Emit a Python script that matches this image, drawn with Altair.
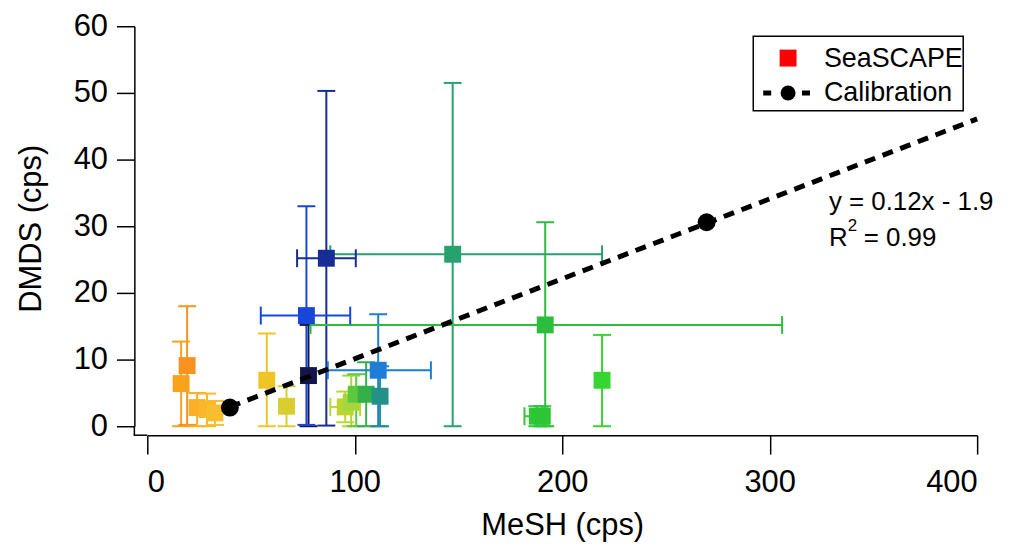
import altair as alt
import pandas as pd

# SeaSCAPE measurements (MeSH vs DMDS, cps) with error bounds
sea_x = [16.3, 19.2, 24.0, 28.8, 32.6, 57.6, 67.1, 77.7, 76.7, 86.3, 111.3,
         95.4, 98.3, 100.7, 105.5, 112.2, 147.2, 191.8, 219.2, 188.0, 190.4]
sea_y = [6.4, 9.1, 2.8, 2.5, 2.0, 6.9, 3.0, 7.6, 16.6, 25.2, 8.4,
         2.9, 3.6, 4.8, 4.8, 4.5, 25.8, 15.2, 6.9, 1.5, 1.5]
sea_ylo = [0.0, 0.2, 0.0, 0.0, 0.2, 0.0, 0.0, 0.0, 0.2, 0.1, 0.0,
           0.6, 0.0, 0.0, 0.0, 0.0, 0.0, 0.0, 0.0, 0.0, 0.0]
sea_yhi = [12.7, 18.0, 5.0, 4.9, 3.8, 13.9, 6.0, 15.2, 33.0, 50.3, 16.8,
           5.2, 7.6, 7.8, 9.6, 9.0, 51.5, 30.6, 13.7, 3.0, 3.0]
sea_xlo = [None, None, None, None, None, None, None, None, 54.7, 72.2, 87.0,
           88.2, None, None, None, None, 88.2, 78.7, None, 181.8, None]
sea_xhi = [None, None, None, None, None, None, None, None, 97.8, 100.5, 136.7,
           102.6, None, None, None, None, 219.2, 306.0, None, 193.0, None]
sea_color = ["#F9A21C", "#F7931E", "#FBAE26", "#FBB72B", "#F8BE2D", "#EEC524",
             "#D8CE30", "#14154D", "#1846DB", "#172C94", "#1E7ED7",
             "#BCD62F", "#A5D63A", "#5CC840", "#34B049", "#22918A",
             "#27A26F", "#2EBC3F", "#35D631", "#2DC935", "#2CC635"]

# Calibration points and linear fit (y = 0.12x - 1.9)
cal_x = [39.8, 269.6]
cal_y = [2.8, 30.6]
fit_x = [39.8, 400.0]
fit_y = [2.9, 46.1]

x_ticks = [0, 100, 200, 300, 400]
y_ticks = [0, 10, 20, 30, 40, 50, 60]

FONT = "Liberation Sans"

df = pd.DataFrame({"x": sea_x, "y": sea_y, "ylo": sea_ylo, "yhi": sea_yhi,
                   "xlo": sea_xlo, "xhi": sea_xhi, "color": sea_color})
cal = pd.DataFrame({"x": cal_x, "y": cal_y})
fit = pd.DataFrame({"x": fit_x, "y": fit_y})
one = pd.DataFrame({"a": [0]})

xs = alt.Scale(domain=[0, 400], nice=False, zero=False)
ys = alt.Scale(domain=[0, 60], nice=False, zero=False)

xaxis = alt.Axis(values=x_ticks, tickSize=19, offset=9, labelFontSize=31, titleFontSize=31,
                 labelPadding=14, titlePadding=13, domainColor="black", tickColor="black",
                 domainWidth=1.5, tickWidth=1.5, grid=False, labelColor="black",
                 titleColor="black", titleFontWeight="normal", labelFont=FONT, titleFont=FONT)
yaxis = alt.Axis(values=y_ticks, tickSize=18, offset=13, labelFontSize=31, titleFontSize=31,
                 labelPadding=9, domainColor="black", tickColor="black",
                 domainWidth=1.5, tickWidth=1.5, grid=False, labelColor="black",
                 titleColor="black", titleFontWeight="normal", labelFont=FONT, titleFont=FONT,
                 titleX=-103, titleY=203, titleAlign="center", titleBaseline="middle",
                 titleAngle=270)

colr = alt.Color("color:N", scale=None)
base = alt.Chart(df)

ybars = base.mark_rule(strokeWidth=2).encode(
    x=alt.X("x:Q", scale=xs, axis=xaxis, title="MeSH (cps)"),
    y=alt.Y("ylo:Q", scale=ys, axis=yaxis, title="DMDS (cps)"),
    y2="yhi:Q", color=colr)
ycap_lo = base.mark_tick(orient="horizontal", size=18, thickness=2, opacity=1).encode(
    x=alt.X("x:Q", scale=xs), y=alt.Y("ylo:Q", scale=ys), color=colr)
ycap_hi = base.mark_tick(orient="horizontal", size=18, thickness=2, opacity=1).encode(
    x=alt.X("x:Q", scale=xs), y=alt.Y("yhi:Q", scale=ys), color=colr)

xb = base.transform_filter("isValid(datum.xlo)")
xbars = xb.mark_rule(strokeWidth=2).encode(
    x=alt.X("xlo:Q", scale=xs), x2="xhi:Q", y=alt.Y("y:Q", scale=ys), color=colr)
xcap_lo = xb.mark_tick(orient="vertical", size=18, thickness=2, opacity=1).encode(
    x=alt.X("xlo:Q", scale=xs), y=alt.Y("y:Q", scale=ys), color=colr)
xcap_hi = xb.mark_tick(orient="vertical", size=18, thickness=2, opacity=1).encode(
    x=alt.X("xhi:Q", scale=xs), y=alt.Y("y:Q", scale=ys), color=colr)

points = base.mark_point(shape="square", filled=True, size=289, opacity=1).encode(
    x=alt.X("x:Q", scale=xs), y=alt.Y("y:Q", scale=ys), color=colr)

fit_line = alt.Chart(fit).mark_line(color="black", strokeWidth=5, strokeDash=[11, 8],
                                    strokeCap="butt").encode(
    x=alt.X("x:Q", scale=xs), y=alt.Y("y:Q", scale=ys))
cal_pts = alt.Chart(cal).mark_point(shape="circle", filled=True, size=324, color="black",
                                    opacity=1).encode(
    x=alt.X("x:Q", scale=xs), y=alt.Y("y:Q", scale=ys))

# axis corner joining the offset axes
corner_h = alt.Chart(one).mark_rule(color="black", strokeWidth=1.5).encode(
    x=alt.value(-13.75), x2=alt.value(0), y=alt.value(411))
corner_v = alt.Chart(one).mark_rule(color="black", strokeWidth=1.5).encode(
    x=alt.value(-13), y=alt.value(402), y2=alt.value(411))

# legend
leg_box = alt.Chart(one).mark_rect(fill="white", stroke="black", strokeWidth=1.5).encode(
    x=alt.value(609), x2=alt.value(820), y=alt.value(10), y2=alt.value(85))
leg_sq = alt.Chart(one).mark_point(shape="square", filled=True, size=289, color="#FF0000",
                                   opacity=1).encode(x=alt.value(644), y=alt.value(32))
leg_line = alt.Chart(one).mark_rule(color="black", strokeWidth=5, strokeDash=[8, 31, 8]).encode(
    x=alt.value(619), x2=alt.value(666), y=alt.value(67))
leg_dot = alt.Chart(one).mark_point(shape="circle", filled=True, size=225, color="black",
                                    opacity=1).encode(x=alt.value(644), y=alt.value(67))
leg_t1 = alt.Chart(one).mark_text(text="SeaSCAPE", align="left", baseline="middle",
                                  fontSize=27, font=FONT, color="black").encode(
    x=alt.value(680), y=alt.value(33))
leg_t2 = alt.Chart(one).mark_text(text="Calibration", align="left", baseline="middle",
                                  fontSize=27, font=FONT, color="black").encode(
    x=alt.value(680), y=alt.value(67))

# fit annotation
ann1 = alt.Chart(one).mark_text(text="y = 0.12x - 1.9", align="left", baseline="middle",
                                fontSize=26, font=FONT, color="black").encode(
    x=alt.value(685), y=alt.value(177))
ann2 = alt.Chart(one).mark_text(text="R", align="left", baseline="middle",
                                fontSize=26, font=FONT, color="black").encode(
    x=alt.value(685), y=alt.value(213))
ann3 = alt.Chart(one).mark_text(text="2", align="left", baseline="middle",
                                fontSize=17, font=FONT, color="black").encode(
    x=alt.value(704), y=alt.value(201))
ann4 = alt.Chart(one).mark_text(text="= 0.99", align="left", baseline="middle",
                                fontSize=26, font=FONT, color="black").encode(
    x=alt.value(720), y=alt.value(213))

chart = alt.layer(
    ybars, ycap_lo, ycap_hi, xbars, xcap_lo, xcap_hi, points,
    fit_line, cal_pts, corner_h, corner_v,
    leg_box, leg_sq, leg_line, leg_dot, leg_t1, leg_t2,
    ann1, ann2, ann3, ann4
).properties(
    width=834, height=402,
    autosize=alt.AutoSizeParams(type="none"),
    padding={"left": 140, "top": 17, "right": 28, "bottom": 116},
).configure_view(stroke=None).configure_axis(labelFont=FONT, titleFont=FONT)

chart.save("out.html", embed_options={"renderer": "svg", "actions": False})
